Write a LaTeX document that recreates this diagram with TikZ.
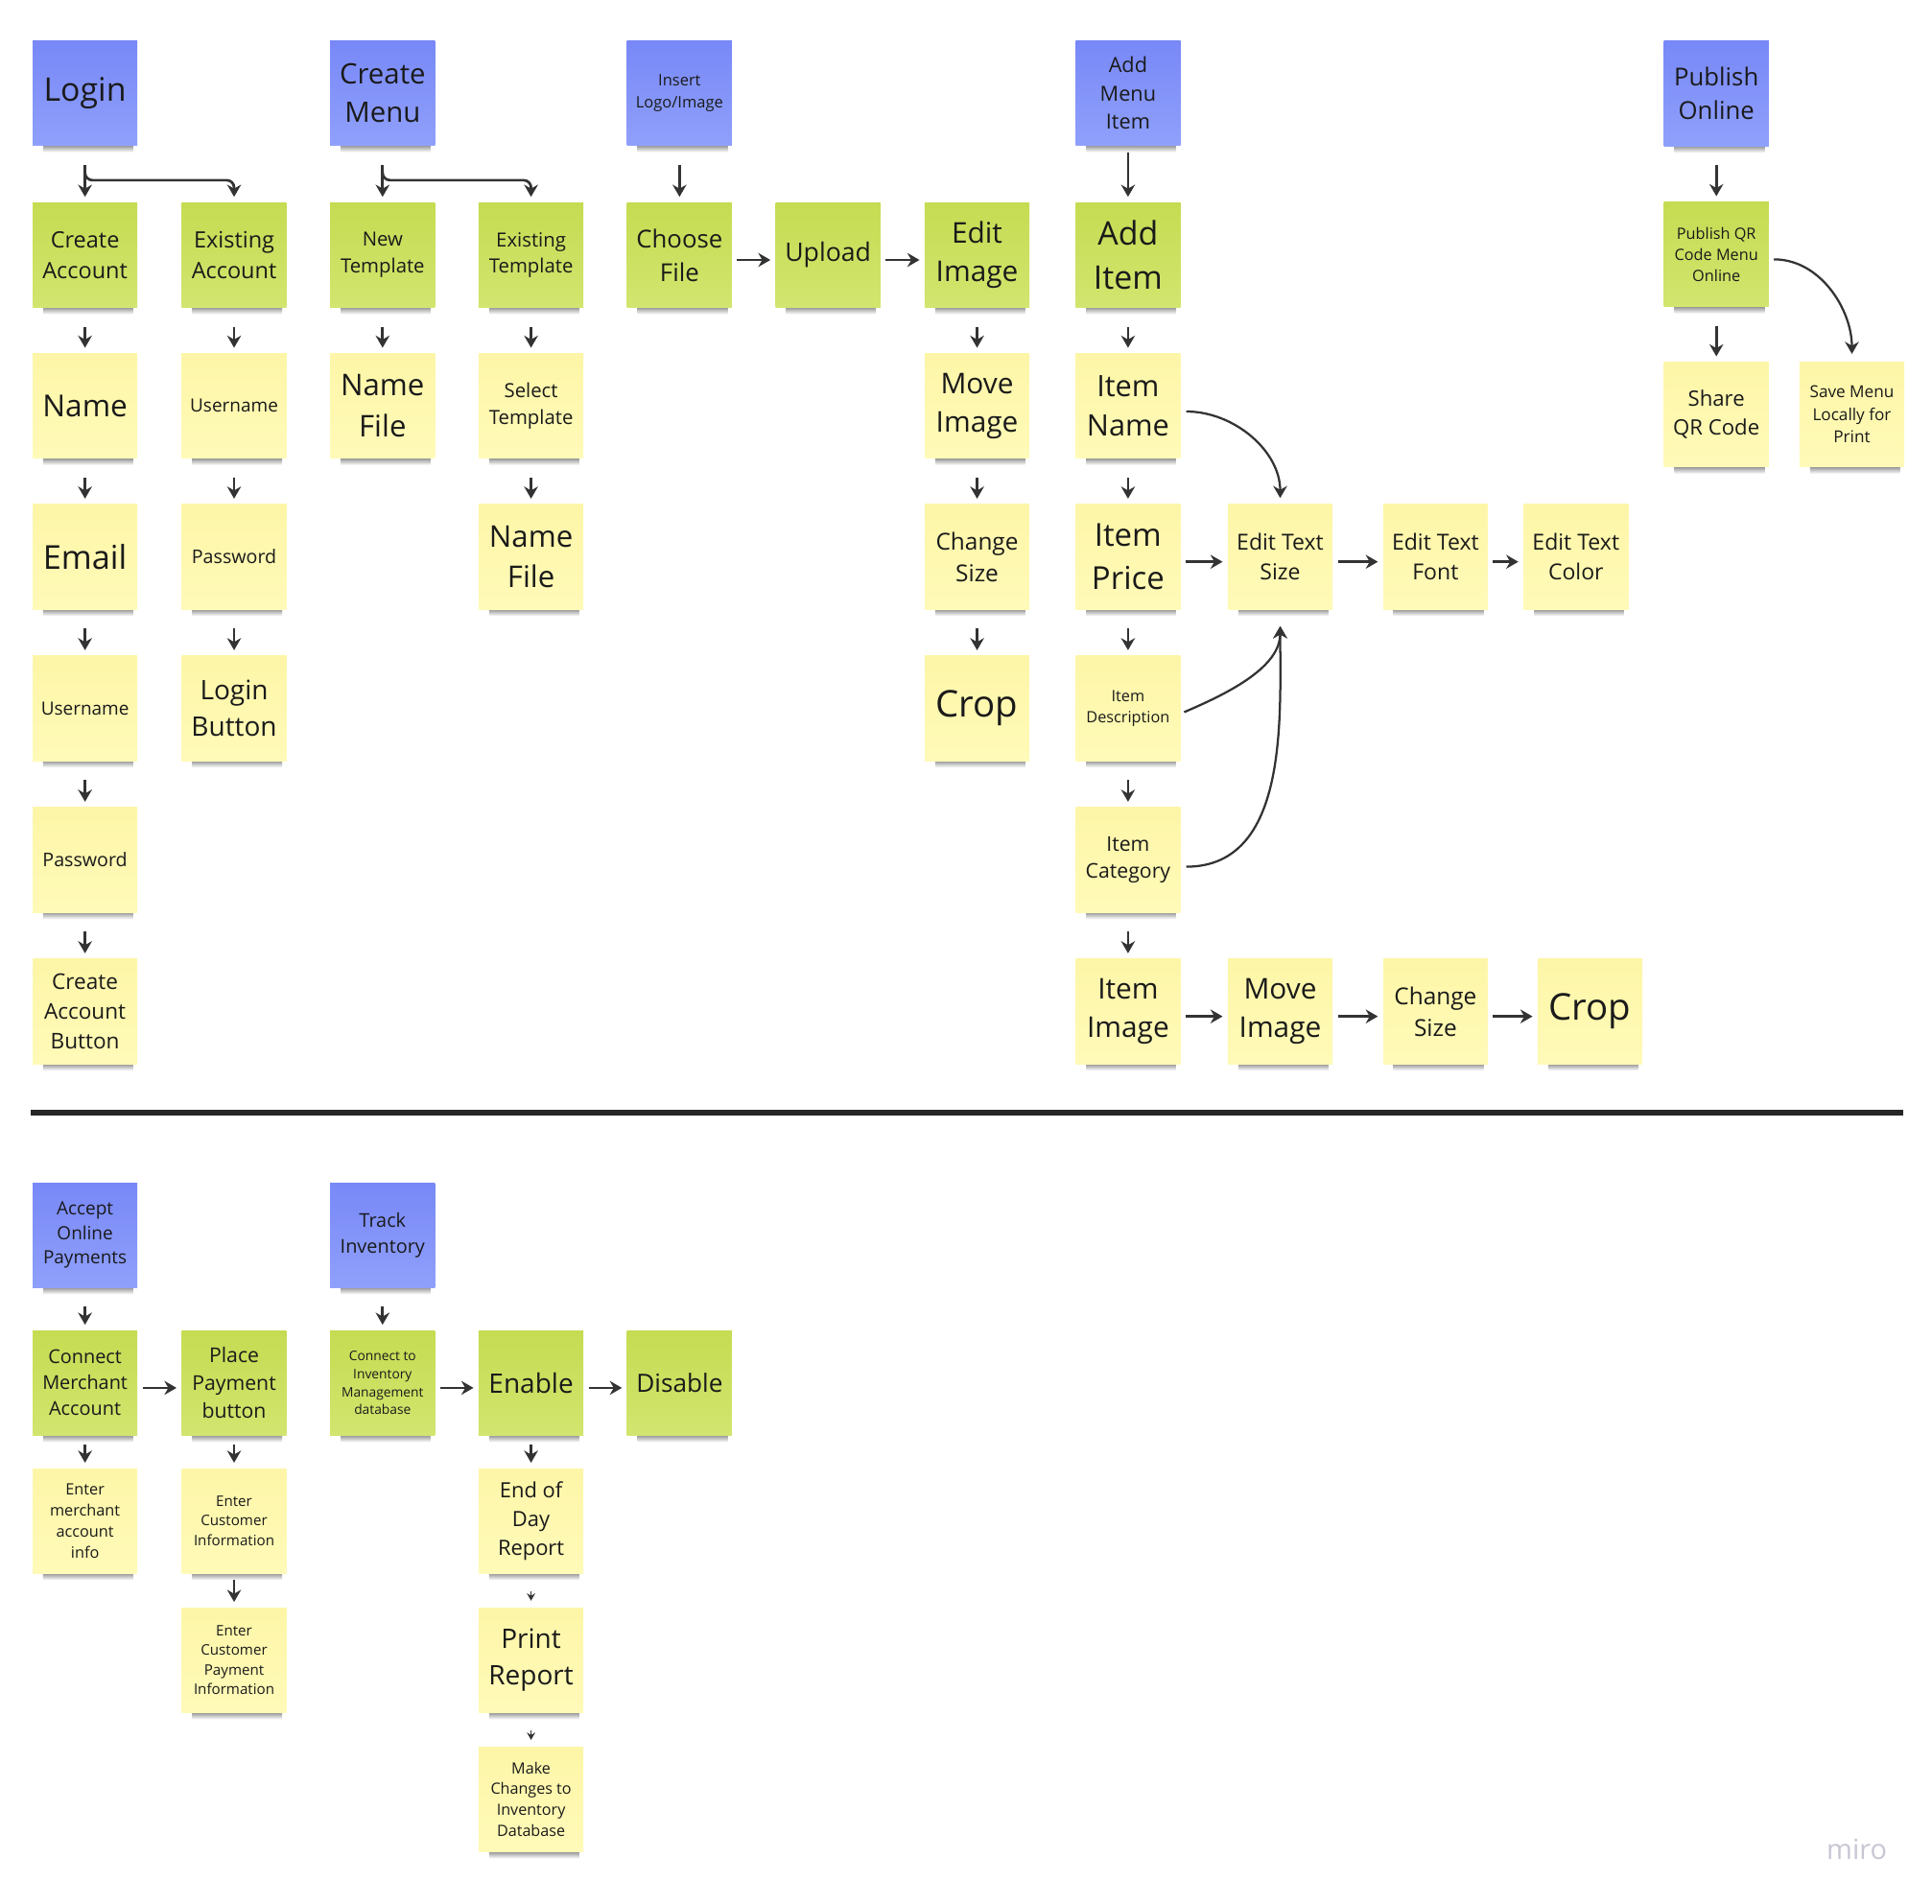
\documentclass[tikz,border=0pt]{standalone}
\usepackage{fontspec}
\setmainfont{Open Sans}
\usetikzlibrary{calc,arrows.meta}
\tikzset {>=Stealth}
\definecolor{bluetop}{HTML}{7888F7}
\definecolor{bluebot}{HTML}{8FA0FB}
\definecolor{greentop}{HTML}{C5DC52}
\definecolor{greenbot}{HTML}{D2E56F}
\definecolor{yellowtop}{HTML}{FDF6A8}
\definecolor{yellowbot}{HTML}{FFFAB8}
\definecolor{ink}{HTML}{1A1A1A}
\definecolor{linegray}{HTML}{333333}
\definecolor{mirogray}{HTML}{C6C7D3}
\newcommand\fsz[1]{\fontsize{#1}{\fpeval{1.36*#1}}\selectfont}
\tikzset{
  note/.style={minimum width=.85cm, minimum height=.85cm, inner sep=0pt, align=center, text=ink},
  bnote/.style={note, top color=bluetop, bottom color=bluebot},
  gnote/.style={note, top color=greentop, bottom color=greenbot},
  ynote/.style={note, top color=yellowtop, bottom color=yellowbot},
  arr/.style={-{Stealth[length=2.8pt,width=3.2pt]}, line width=.6pt, draw=linegray},
  varr/.style={arr, shorten <=.15cm, shorten >=.04cm},
  harr/.style={arr, shorten <=.035cm, shorten >=.035cm},
  tarr/.style={-{Stealth[length=1.7pt,width=1.9pt]}, line width=.35pt, draw=linegray, shorten <=.14cm, shorten >=.05cm},
  curv/.style={arr, line width=.5pt},
}

\begin{document}
\begin{tikzpicture}[x=.01cm, y=-.01cm]
\useasboundingbox (0,0) rectangle (1568,1545.4);
% sticky notes
\foreach \name/\x/\y/\kind/\fs/\txt in {
  login/69/75.5/bnote/7.5/Login,
  createmenu/310.5/75.5/bnote/6.5/{Create\\Menu},
  insert/551.5/75.5/bnote/3.65/{Insert\\Logo/Image},
  addmenu/915.5/75.5/bnote/4.8/{Add\\Menu\\Item},
  publish/1393/76/bnote/5.7/{Publish\\Online},
  createacc/69/207/gnote/5.2/{Create\\Account},
  existacc/190/207/gnote/5.2/{Existing\\Account},
  newtpl/310.5/207/gnote/4.5/{New\\Template},
  existtpl/431/207/gnote/4.5/{Existing\\Template},
  choose/551.5/207/gnote/5.7/{Choose\\File},
  upload/672/207/gnote/5.9/Upload,
  editimg/793/207/gnote/6.6/{Edit\\Image},
  additem/915.5/207/gnote/7.5/{Add\\Item},
  publishqr/1393/206.5/gnote/3.6/{Publish QR\\Code Menu\\Online},
  name/69/329.5/ynote/7.0/Name,
  username2/190/329.5/ynote/4.2/Username,
  namefile/310.5/329.5/ynote/6.9/{Name\\File},
  selecttpl/431/329.5/ynote/4.5/{Select\\Template},
  moveimg/793/329.5/ynote/6.6/{Move\\Image},
  itemname/915.5/329.5/ynote/6.8/{Item\\Name},
  shareqr/1393/336.5/ynote/4.9/{Share\\QR Code},
  savemenu/1503/336.5/ynote/3.8/{Save Menu\\Locally for\\Print},
  email/69/452/ynote/7.6/Email,
  password2/190/452/ynote/4.35/Password,
  namefile2/431/452/ynote/6.9/{Name\\File},
  changesize/793/452/ynote/5.4/{Change\\Size},
  itemprice/915.5/452/ynote/7.3/{Item\\Price},
  edittextsize/1039/452/ynote/5.1/{Edit Text\\Size},
  edittextfont/1165/452/ynote/5.1/{Edit Text\\Font},
  edittextcolor/1279/452/ynote/5.1/{Edit Text\\Color},
  username/69/575/ynote/4.2/Username,
  loginbtn/190/575/ynote/6.2/{Login\\Button},
  crop/793/575/ynote/8.5/Crop,
  itemdesc/915.5/575/ynote/3.6/{Item\\Description},
  password/69/698/ynote/4.35/Password,
  itemcat/915.5/698/ynote/4.7/{Item\\Category},
  createbtn/69/821/ynote/5.0/{Create\\Account\\Button},
  itemimg/915.5/821/ynote/6.6/{Item\\Image},
  moveimg2/1039/821/ynote/6.6/{Move\\Image},
  changesize2/1165/821/ynote/5.4/{Change\\Size},
  crop2/1290.5/821/ynote/8.5/Crop,
  accept/69/1002.5/bnote/4.2/{Accept\\Online\\Payments},
  track/310.5/1002.5/bnote/4.4/{Track\\Inventory},
  connect/69/1122.5/gnote/4.4/{Connect\\Merchant\\Account},
  place/190/1122.5/gnote/4.7/{Place\\Payment\\button},
  connectinv/310.5/1122.5/gnote/3.05/{Connect to\\Inventory\\Management\\database},
  enable/431/1122.5/gnote/6.2/Enable,
  disable/551.5/1122.5/gnote/5.8/Disable,
  entermerchant/69/1234.5/ynote/3.6/{Enter\\merchant\\account\\info},
  entercust/190/1234.5/ynote/3.35/{Enter\\Customer\\Information},
  eod/431/1234.5/ynote/4.85/{End of\\Day\\Report},
  enterpay/190/1347.5/ynote/3.35/{Enter\\Customer\\Payment\\Information},
  print/431/1347.5/ynote/6.2/{Print\\Report},
  makechanges/431/1460.5/ynote/3.57/{Make\\Changes to\\Inventory\\Database}} {
  \shade[top color=black!60, bottom color=white] (\x-34,\y+40) rectangle (\x+39,\y+48);
  \node[\kind, font=\fsz{\fs}] (\name) at (\x,\y) {\txt};
}
% straight arrows
\foreach \a/\b in {login/createacc,createacc/name,name/email,email/username,username/password,
  password/createbtn,existacc/username2,username2/password2,password2/loginbtn,
  createmenu/newtpl,newtpl/namefile,existtpl/selecttpl,selecttpl/namefile2,insert/choose,
  editimg/moveimg,moveimg/changesize,changesize/crop,additem/itemname,itemname/itemprice,
  itemprice/itemdesc,itemdesc/itemcat,itemcat/itemimg,publish/publishqr,publishqr/shareqr,
  accept/connect,track/connectinv}
  \draw[varr] (\a.south) -- (\b.north);
\draw[varr, shorten <=.05cm] (addmenu.south) -- (additem.north);
\foreach \a/\b in {connect/entermerchant,place/entercust,enable/eod}
  \draw[varr, shorten <=.065cm] (\a.south) -- (\b.north);
\draw[varr, shorten <=.045cm] (entercust.south) -- (enterpay.north);
\draw[tarr] (eod.south) -- (print.north);
\draw[tarr] (print.south) -- (makechanges.north);
\foreach \a/\b in {choose/upload,upload/editimg,itemprice/edittextsize,edittextsize/edittextfont,
  edittextfont/edittextcolor,itemimg/moveimg2,moveimg2/changesize2,changesize2/crop2,
  connect/place,connectinv/enable,enable/disable}
  \draw[harr] ([yshift=-.04cm]\a.east) -- ([yshift=-.04cm]\b.west);
% branches
\foreach \a/\b in {login/existacc,createmenu/existtpl}
  \draw[arr, rounded corners=.06cm] ([yshift=-.2cm]\a.south) |- ($(\b.north)+(0,-17.5)$) -- ([yshift=.04cm]\b.north);
% curved arrows
\draw[curv, shorten <=.04cm, shorten >=.045cm] ([yshift=-.045cm]itemname.east) to[out=0, in=90] (edittextsize.north);
\draw[curv, shorten <=.025cm, shorten >=.13cm] ([yshift=-.04cm]itemdesc.east) to[out=23, in=-90] (edittextsize.south);
\draw[curv, shorten <=.04cm, shorten >=.13cm] ([yshift=-.055cm]itemcat.east) to[out=0, in=-90] (edittextsize.south);
\draw[curv, shorten <=.035cm, shorten >=.06cm] ([yshift=-.04cm]publishqr.east) to[out=0, in=90] (savemenu.north);
% divider
\draw[line width=1.4pt, draw=black!85] (25,903) -- (1545,903);
\node[text=mirogray, font=\fsz{6.4}] (logo) at (1507,1501) {miro};
\end{tikzpicture}
\end{document}
